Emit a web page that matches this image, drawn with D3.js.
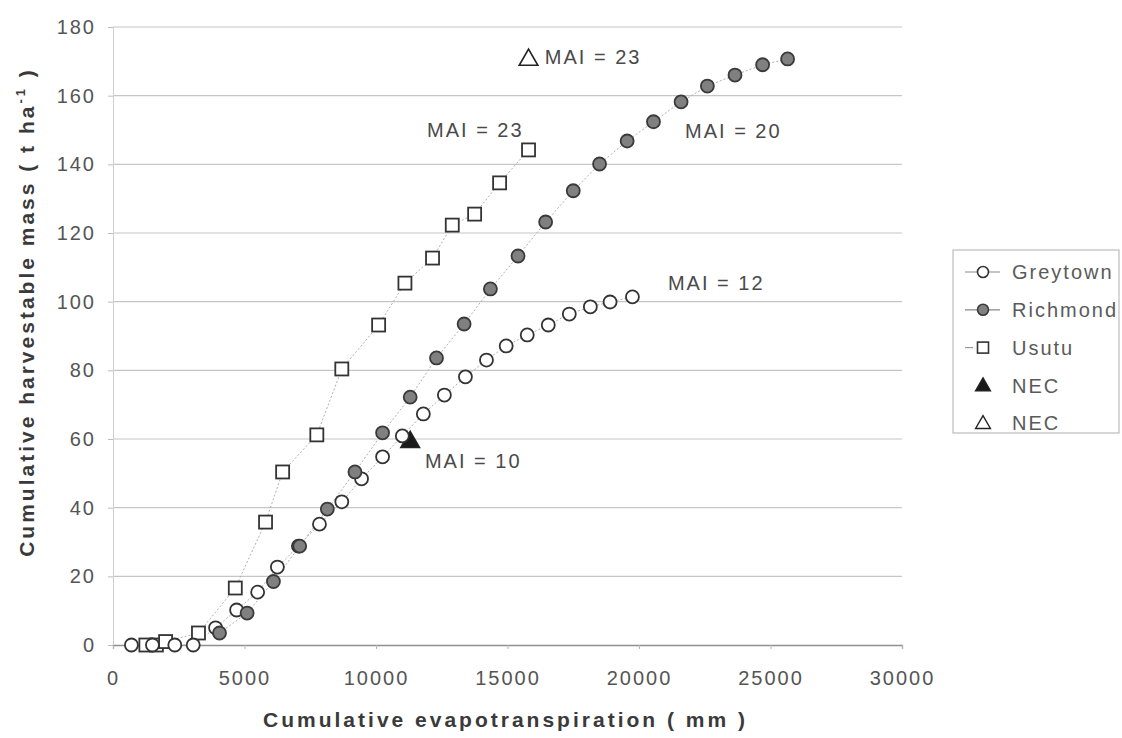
<!DOCTYPE html>
<html>
<head>
<meta charset="utf-8">
<script src="https://cdn.jsdelivr.net/npm/d3@7"></script>
<style>
  html, body { margin: 0; padding: 0; background: #fff; }
  svg { display: block; }
  text { font-family: Arial, "Liberation Sans", Helvetica, sans-serif; }
</style>
</head>
<body>
<svg id="chart" width="1122" height="738"></svg>
<script>
// Cumulative evapotranspiration (mm) vs cumulative harvestable mass (t/ha)
const greytownET   = [700, 1500, 2350, 3050, 3900, 4700, 5500, 6250, 7050, 7850, 8700, 9450, 10250, 11000, 11800, 12600, 13400, 14200, 14950, 15750, 16550, 17350, 18150, 18900, 19750];
const greytownMass = [0, 0, 0, 0, 5.0, 10.2, 15.4, 22.7, 28.8, 35.2, 41.7, 48.4, 54.8, 60.9, 67.3, 72.8, 78.1, 83.0, 87.1, 90.3, 93.2, 96.4, 98.5, 99.9, 101.4];

const richmondET   = [4050, 5100, 6100, 7100, 8150, 9200, 10250, 11300, 12300, 13350, 14350, 15400, 16450, 17500, 18500, 19550, 20550, 21600, 22600, 23650, 24700, 25650];
const richmondMass = [3.5, 9.3, 18.5, 28.8, 39.6, 50.4, 61.8, 72.2, 83.6, 93.5, 103.7, 113.3, 123.2, 132.3, 140.1, 146.8, 152.4, 158.2, 162.8, 166.0, 169.0, 170.7];

const usutuET   = [1250, 1650, 2000, 3250, 4650, 5800, 6450, 7750, 8700, 10100, 11100, 12150, 12900, 13750, 14700, 15800];
const usutuMass = [0, 0, 1.0, 3.5, 16.6, 35.8, 50.4, 61.2, 80.4, 93.2, 105.4, 112.7, 122.3, 125.5, 134.6, 144.2];

const necFilledET = [11300], necFilledMass = [59.4];
const necOpenET   = [15800], necOpenMass   = [170.7];

const xTicks = [0, 5000, 10000, 15000, 20000, 25000, 30000];
const yTicks = [0, 20, 40, 60, 80, 100, 120, 140, 160, 180];

const legendLabels = ["Greytown", "Richmond", "Usutu", "NEC", "NEC"];

// MAI annotations, anchored in data units (left edge, vertical centre)
const maiText = ["MAI = 23", "MAI = 23", "MAI = 20", "MAI = 12", "MAI = 10"];
const maiET   = [16420, 11940, 21750, 21100, 11860];
const maiMass = [171.3, 150.0, 149.7, 105.4, 53.6];

const zip = (xs, ys) => xs.map((x, i) => ({ x, y: ys[i] }));

const svg = d3.select("#chart");
const plot = { left: 113, right: 902, top: 27, bottom: 645 };

const x = d3.scaleLinear().domain([0, 30000]).range([plot.left, plot.right]);
const y = d3.scaleLinear().domain([0, 180]).range([plot.bottom, plot.top]);

const labelFont = { size: "20px", spacing: "2px", fill: "#4a4a4a" };

// horizontal gridlines
svg.append("g")
  .selectAll("line")
  .data(yTicks.filter(d => d > 0))
  .join("line")
  .attr("x1", plot.left).attr("x2", plot.right)
  .attr("y1", d => y(d)).attr("y2", d => y(d))
  .attr("stroke", "#c6c6c6").attr("stroke-width", 1.2);

// y axis
const yAxis = svg.append("g")
  .attr("transform", `translate(${plot.left},0)`)
  .call(d3.axisLeft(y).tickValues(yTicks).tickSize(5).tickPadding(12));
yAxis.select(".domain").attr("stroke", "#cfcfcf");
yAxis.selectAll(".tick line").attr("stroke", "#bdbdbd");
yAxis.selectAll(".tick text")
  .attr("font-size", labelFont.size).attr("letter-spacing", labelFont.spacing)
  .attr("fill", "#555").attr("font-family", "Arial, 'Liberation Sans', sans-serif");

// x axis
const xAxis = svg.append("g")
  .attr("transform", `translate(0,${plot.bottom})`)
  .call(d3.axisBottom(x).tickValues(xTicks).tickFormat(d3.format("d")).tickSize(4).tickPadding(22));
xAxis.select(".domain").attr("stroke", "#8f8f8f").attr("stroke-width", 1.3);
xAxis.selectAll(".tick line").attr("stroke", "#b5b5b5");
xAxis.selectAll(".tick text")
  .attr("font-size", labelFont.size).attr("letter-spacing", labelFont.spacing)
  .attr("fill", "#555").attr("font-family", "Arial, 'Liberation Sans', sans-serif");

// axis titles
svg.append("text")
  .attr("x", (plot.left + plot.right) / 2 - 2).attr("y", 727)
  .attr("text-anchor", "middle")
  .attr("font-size", "21px").attr("font-weight", "bold")
  .attr("letter-spacing", "3px").attr("fill", "#3a3a3a")
  .text("Cumulative evapotranspiration ( mm )");

const yTitle = svg.append("text")
  .attr("transform", "translate(34,312) rotate(-90)")
  .attr("text-anchor", "middle")
  .attr("font-size", "21px").attr("font-weight", "bold")
  .attr("letter-spacing", "3px").attr("fill", "#3a3a3a");
yTitle.append("tspan").text("Cumulative harvestable mass ( t ha");
yTitle.append("tspan").attr("font-size", "13px").attr("dy", "-9").text("-1");
yTitle.append("tspan").attr("dy", "9").text(" )");

// connecting lines
const lineGen = d3.line().x(d => x(d.x)).y(d => y(d.y));
const series = [
  { pts: zip(usutuET, usutuMass) },
  { pts: zip(greytownET, greytownMass) },
  { pts: zip(richmondET, richmondMass) }
];
svg.append("g").selectAll("path")
  .data(series)
  .join("path")
  .attr("d", d => lineGen(d.pts))
  .attr("fill", "none")
  .attr("stroke", "#b0b0b0").attr("stroke-width", 1)
  .attr("stroke-dasharray", "2,2");

// marker helpers
const tri = d3.symbol().type(d3.symbolTriangle).size(150)();
const sq = 13;

function drawTriangles(g, pts, fill) {
  g.selectAll(null).data(pts).join("path")
    .attr("d", tri)
    .attr("transform", d => `translate(${x(d.x)},${y(d.y) + 1})`)
    .attr("fill", fill).attr("stroke", "#222").attr("stroke-width", 1.6);
}
function drawSquares(g, pts) {
  g.selectAll(null).data(pts).join("rect")
    .attr("x", d => x(d.x) - sq / 2).attr("y", d => y(d.y) - sq / 2)
    .attr("width", sq).attr("height", sq)
    .attr("fill", "#fff").attr("stroke", "#333").attr("stroke-width", 1.8);
}
function drawCircles(g, pts, fill, stroke) {
  g.selectAll(null).data(pts).join("circle")
    .attr("cx", d => x(d.x)).attr("cy", d => y(d.y)).attr("r", 6.5)
    .attr("fill", fill).attr("stroke", stroke).attr("stroke-width", 1.8);
}

const marks = svg.append("g");
drawTriangles(marks.append("g"), zip(necFilledET, necFilledMass), "#1a1a1a");
drawTriangles(marks.append("g"), zip(necOpenET, necOpenMass), "#fff");
drawSquares(marks.append("g"), zip(usutuET, usutuMass));
drawCircles(marks.append("g"), zip(greytownET, greytownMass), "#fff", "#333");
drawCircles(marks.append("g"), zip(richmondET, richmondMass), "#808080", "#3a3a3a");

// MAI annotations
svg.append("g").selectAll("text")
  .data(maiText.map((t, i) => ({ t, x: maiET[i], y: maiMass[i] })))
  .join("text")
  .attr("x", d => x(d.x)).attr("y", d => y(d.y)).attr("dy", "0.36em")
  .attr("font-size", labelFont.size).attr("letter-spacing", labelFont.spacing)
  .attr("fill", labelFont.fill)
  .text(d => d.t);

// legend
const legend = svg.append("g");
legend.append("rect")
  .attr("x", 953).attr("y", 250).attr("width", 166).attr("height", 183)
  .attr("fill", "#fff").attr("stroke", "#bdbdbd").attr("stroke-width", 1.2);

const legY = i => 272 + i * 37.8;
const symX = 983;
legend.selectAll("text")
  .data(legendLabels)
  .join("text")
  .attr("x", 1012).attr("y", (d, i) => legY(i)).attr("dy", "0.36em")
  .attr("font-size", labelFont.size).attr("letter-spacing", labelFont.spacing)
  .attr("fill", "#5a5a5a")
  .text(d => d);

[0, 1].forEach(i => {
  legend.append("line")
    .attr("x1", 965).attr("x2", 1000).attr("y1", legY(i)).attr("y2", legY(i))
    .attr("stroke", "#8a8a8a").attr("stroke-width", 1.2);
});
legend.append("line")
  .attr("x1", 965).attr("x2", 973).attr("y1", legY(2)).attr("y2", legY(2))
  .attr("stroke", "#9a9a9a").attr("stroke-width", 1.2);

legend.append("circle").attr("cx", symX).attr("cy", legY(0)).attr("r", 5.5)
  .attr("fill", "#fff").attr("stroke", "#333").attr("stroke-width", 1.6);
legend.append("circle").attr("cx", symX).attr("cy", legY(1)).attr("r", 5.5)
  .attr("fill", "#808080").attr("stroke", "#3a3a3a").attr("stroke-width", 1.6);
legend.append("rect").attr("x", symX - 5.5).attr("y", legY(2) - 5.5).attr("width", 11).attr("height", 11)
  .attr("fill", "#fff").attr("stroke", "#333").attr("stroke-width", 1.6);
const legTri = d3.symbol().type(d3.symbolTriangle).size(95)();
legend.append("path").attr("d", legTri).attr("transform", `translate(${symX},${legY(3) + 1})`)
  .attr("fill", "#1a1a1a").attr("stroke", "#222").attr("stroke-width", 1.4);
legend.append("path").attr("d", legTri).attr("transform", `translate(${symX},${legY(4) + 1})`)
  .attr("fill", "#fff").attr("stroke", "#222").attr("stroke-width", 1.4);
</script>
</body>
</html>
